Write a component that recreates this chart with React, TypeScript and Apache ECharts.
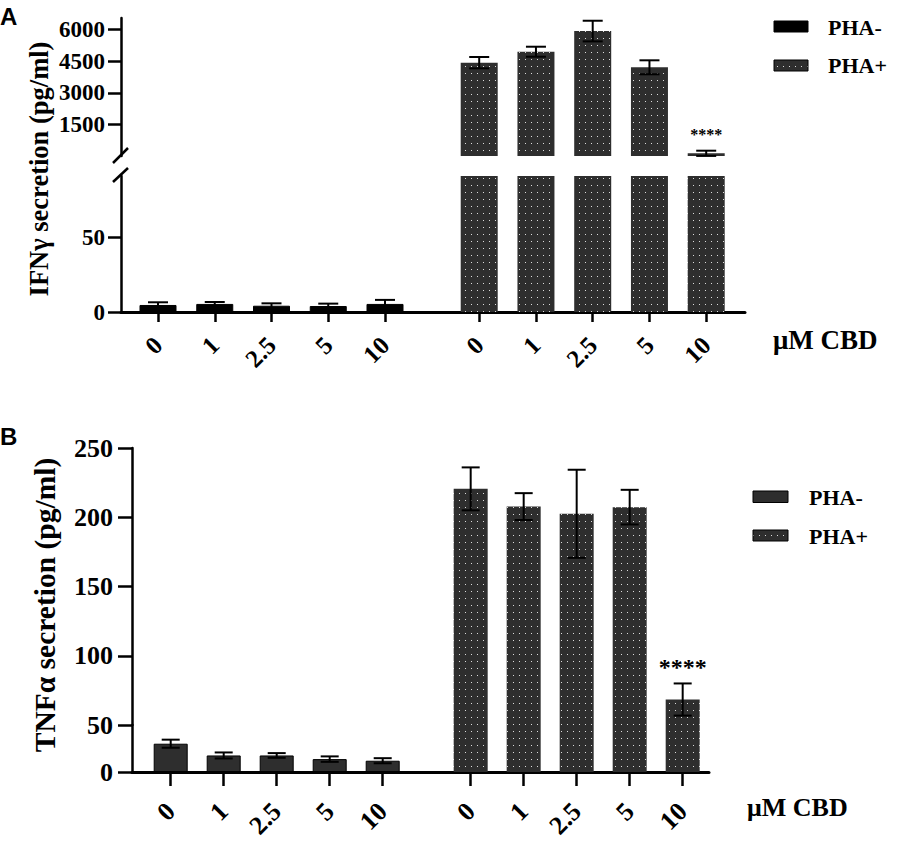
import React, { useEffect, useRef } from "react";
import * as echarts from "echarts";

// ---------- data ----------
const doses = ["0", "1", "2.5", "5", "10"];
const groupNames = ["PHA-", "PHA+"];

// Panel A: IFNγ secretion (pg/ml)
const ifnMinus = [4.7, 5.4, 4.2, 4.0, 5.4];
const ifnMinusErr = [1.8, 1.3, 1.6, 1.6, 2.7];
const ifnPlus = [4430, 4950, 5930, 4210, 128];
const ifnPlusErr = [270, 237, 490, 332, 124];
const ifnSig = ["", "", "", "", "****"];
const ifnUpperTicks = [1500, 3000, 4500, 6000];
const ifnLowerTicks = [0, 50];

// Panel B: TNFα secretion (pg/ml)
const tnfMinus = [30.1, 17.6, 17.6, 13.7, 12.0];
const tnfMinusErr = [4.3, 3.2, 2.5, 2.9, 2.7];
const tnfPlus = [220.5, 207.7, 202.5, 207.3, 68.4];
const tnfPlusErr = [15.5, 9.7, 31.8, 12.5, 11.6];
const tnfSig = ["", "", "", "", "****"];
const tnfUpperTicks = [100, 150, 200, 250];
const tnfLowerTicks = [0, 50];

// ---------- layout ----------
const SERIF = "'Liberation Serif', 'Times New Roman', serif";
const SANS = "'Liberation Sans', Arial, sans-serif";
const GROUP_OFFSET = 5.66; // slot distance between first PHA- and first PHA+ bar

const minusPos = doses.map((_, i) => i);
const plusPos = doses.map((_, i) => i + GROUP_OFFSET);
const allPos = [...minusPos, ...plusPos];
const allLabels = [...doses, ...doses];

function makeDots(bg: string) {
  const c = document.createElement("canvas");
  c.width = 6;
  c.height = 7;
  const g = c.getContext("2d")!;
  g.fillStyle = bg;
  g.fillRect(0, 0, 6, 7);
  g.fillStyle = "#dcdcdc";
  g.fillRect(3, 3, 1, 1);
  return { image: c, repeat: "repeat", imageWidth: 6, imageHeight: 7 } as any;
}

interface Seg {
  top: number;
  bottom: number;
  min: number;
  max: number;
  ticks: number[];
}
interface Panel {
  axisX: number;
  axisRight: number;
  firstTick: number;
  unit: number;
  upper: Seg;
  lower: Seg;
  barWidth: number;
  capHalf: number;
  yFont: number;
  yMargin: number;
  yTickLen: number;
  xFont: number;
  xMargin: number;
  xTickLen: number;
  sigFont: number;
  sigDist: number;
  minus: number[];
  minusErr: number[];
  plus: number[];
  plusErr: number[];
  sig: string[];
  minusColor: string;
}

const panels: Panel[] = [
  {
    axisX: 121,
    axisRight: 745,
    firstTick: 158,
    unit: 56.75,
    upper: { top: 18, bottom: 156, min: 0, max: 6550, ticks: ifnUpperTicks },
    lower: { top: 176, bottom: 312, min: 0, max: 91, ticks: ifnLowerTicks },
    barWidth: 37,
    capHalf: 10,
    yFont: 23,
    yMargin: 16,
    yTickLen: 13,
    xFont: 25,
    xMargin: 29,
    xTickLen: 10,
    sigFont: 16,
    sigDist: 8,
    minus: ifnMinus,
    minusErr: ifnMinusErr,
    plus: ifnPlus,
    plusErr: ifnPlusErr,
    sig: ifnSig,
    minusColor: "#000000",
  },
  {
    axisX: 132,
    axisRight: 709,
    firstTick: 170.7,
    unit: 53,
    upper: { top: 448, bottom: 725, min: 50, max: 250, ticks: tnfUpperTicks },
    lower: { top: 725, bottom: 772, min: 0, max: 50, ticks: tnfLowerTicks },
    barWidth: 34,
    capHalf: 9,
    yFont: 26,
    yMargin: 19,
    yTickLen: 14,
    xFont: 26,
    xMargin: 35,
    xTickLen: 14,
    sigFont: 24,
    sigDist: 4,
    minus: tnfMinus,
    minusErr: tnfMinusErr,
    plus: tnfPlus,
    plusErr: tnfPlusErr,
    sig: tnfSig,
    minusColor: "#2e2e2e",
  },
];

const errorRender = (capHalf: number) => (params: any, api: any) => {
  const x = api.value(0);
  const v = api.value(1);
  const e = api.value(2);
  const hi = api.coord([x, v + e]);
  const lo = api.coord([x, v - e]);
  const st = { stroke: "#000", lineWidth: 2 };
  return {
    type: "group",
    children: [
      { type: "line", shape: { x1: hi[0], y1: hi[1], x2: lo[0], y2: lo[1] }, style: st },
      { type: "line", shape: { x1: hi[0] - capHalf, y1: hi[1], x2: hi[0] + capHalf, y2: hi[1] }, style: st },
      { type: "line", shape: { x1: lo[0] - capHalf, y1: lo[1], x2: lo[0] + capHalf, y2: lo[1] }, style: st },
    ],
  };
};

function buildOption() {
  const dotsFill = makeDots("#2e2e2e");
  const grid: any[] = [];
  const xAxis: any[] = [];
  const yAxis: any[] = [];
  const series: any[] = [];

  panels.forEach((p, pi) => {
    const xMin = (p.axisX - p.firstTick) / p.unit;
    const xMax = (p.axisRight - p.firstTick) / p.unit;
    const segs = [p.upper, p.lower];
    segs.forEach((s, si) => {
      const gi = pi * 2 + si;
      const isLower = si === 1;
      grid.push({
        left: p.axisX,
        top: s.top,
        width: p.axisRight - p.axisX,
        height: s.bottom - s.top,
      });
      xAxis.push({
        type: "value",
        gridIndex: gi,
        min: xMin,
        max: xMax,
        show: isLower,
        axisLine: { show: true, onZero: false, lineStyle: { color: "#000", width: 3 } },
        axisTick: {
          show: true,
          customValues: allPos,
          length: p.xTickLen,
          lineStyle: { color: "#000", width: 2.5 },
        },
        axisLabel: {
          customValues: allPos,
          rotate: 45,
          margin: p.xMargin,
          fontFamily: SERIF,
          fontWeight: "bold",
          fontSize: p.xFont,
          color: "#000",
          formatter: (val: number) => {
            const i = allPos.findIndex((q) => Math.abs(q - val) < 1e-3);
            return i >= 0 ? allLabels[i] : "";
          },
        },
        splitLine: { show: false },
      });
      yAxis.push({
        type: "value",
        gridIndex: gi,
        min: s.min,
        max: s.max,
        axisLine: { show: true, onZero: false, lineStyle: { color: "#000", width: 2.5 } },
        axisTick: {
          show: true,
          customValues: s.ticks,
          length: p.yTickLen,
          lineStyle: { color: "#000", width: 2.5 },
        },
        axisLabel: {
          customValues: s.ticks,
          margin: p.yMargin,
          fontFamily: SERIF,
          fontWeight: "bold",
          fontSize: p.yFont,
          color: "#000",
          formatter: (v: number) => String(v),
        },
        splitLine: { show: false },
      });

      // bars
      if (isLower) {
        series.push({
          type: "bar",
          name: groupNames[0],
          xAxisIndex: gi,
          yAxisIndex: gi,
          barWidth: p.barWidth,
          barGap: "-100%",
          data: p.minus.map((v, i) => [minusPos[i], v]),
          itemStyle: { color: p.minusColor, borderColor: "#000", borderWidth: 1 },
        });
      }
      series.push({
        type: "bar",
        name: groupNames[1],
        xAxisIndex: gi,
        yAxisIndex: gi,
        barWidth: p.barWidth,
        barGap: "-100%",
        data: p.plus.map((v, i) => [plusPos[i], v]),
        itemStyle: { color: dotsFill, borderWidth: 0 },
      });

      // error bars
      const errVals = isLower ? p.minus : p.plus;
      const errs = isLower ? p.minusErr : p.plusErr;
      const errPos = isLower ? minusPos : plusPos;
      series.push({
        type: "custom",
        name: groupNames[isLower ? 0 : 1] + " SD",
        xAxisIndex: gi,
        yAxisIndex: gi,
        encode: { x: 0, y: 1 },
        data: errVals.map((v, i) => [errPos[i], v, errs[i]]),
        renderItem: errorRender(p.capHalf),
        z: 5,
      });

      // significance marks
      if (!isLower) {
        series.push({
          type: "scatter",
          name: "significance",
          xAxisIndex: gi,
          yAxisIndex: gi,
          symbolSize: 0.01,
          itemStyle: { color: "#000", opacity: 1 },
          z: 6,
          data: p.sig
            .map((s, i) => ({ s, i }))
            .filter((d) => d.s !== "")
            .map((d) => ({
              value: [plusPos[d.i], p.plus[d.i] + p.plusErr[d.i]],
              label: {
                show: true,
                formatter: d.s,
                position: "top",
                distance: p.sigDist,
                fontFamily: SERIF,
                fontWeight: "bold",
                fontSize: p.sigFont,
                color: "#000",
                opacity: 1,
              },
            })),
        });
      }
    });
  });

  const serifBold = (size: number) => `bold ${size}px ${SERIF}`;
  const graphic: any[] = [
    // panel letters
    { type: "text", left: 0, top: 4, style: { text: "A", font: `bold 24px ${SANS}`, fill: "#000" } },
    { type: "text", left: 0, top: 424, style: { text: "B", font: `bold 24px ${SANS}`, fill: "#000" } },
    // y axis titles
    {
      type: "text",
      x: 39,
      y: 169,
      rotation: Math.PI / 2,
      style: { text: "IFNγ secretion (pg/ml)", font: serifBold(26.5), fill: "#000", align: "center", verticalAlign: "middle" },
    },
    {
      type: "text",
      x: 45,
      y: 605,
      rotation: Math.PI / 2,
      style: { text: "TNFα secretion (pg/ml)", font: serifBold(29.5), fill: "#000", align: "center", verticalAlign: "middle" },
    },
    // x axis titles
    { type: "text", x: 773, y: 340, style: { text: "μM CBD", font: serifBold(27), fill: "#000", verticalAlign: "middle" } },
    { type: "text", x: 747, y: 807, style: { text: "μM CBD", font: serifBold(26), fill: "#000", verticalAlign: "middle" } },
    // axis break marks (panel A)
    { type: "line", shape: { x1: 113, y1: 163, x2: 128, y2: 148 }, style: { stroke: "#000", lineWidth: 2.5 } },
    { type: "line", shape: { x1: 113, y1: 182, x2: 128, y2: 168 }, style: { stroke: "#000", lineWidth: 2.5 } },
    // legend A
    { type: "rect", shape: { x: 774, y: 21, width: 34, height: 11 }, style: { fill: panels[0].minusColor, stroke: "#000", lineWidth: 1 } },
    { type: "text", x: 828, y: 27, style: { text: groupNames[0], font: serifBold(22), fill: "#000", verticalAlign: "middle" } },
    { type: "rect", shape: { x: 774, y: 60, width: 34, height: 11 }, style: { fill: dotsFill, stroke: "#000", lineWidth: 1 } },
    { type: "text", x: 828, y: 65.5, style: { text: groupNames[1], font: serifBold(22), fill: "#000", verticalAlign: "middle" } },
    // legend B
    { type: "rect", shape: { x: 753, y: 491, width: 35, height: 11.5 }, style: { fill: panels[1].minusColor, stroke: "#000", lineWidth: 1 } },
    { type: "text", x: 809, y: 497, style: { text: groupNames[0], font: serifBold(22), fill: "#000", verticalAlign: "middle" } },
    { type: "rect", shape: { x: 753, y: 530, width: 35, height: 11 }, style: { fill: dotsFill, stroke: "#000", lineWidth: 1 } },
    { type: "text", x: 809, y: 536, style: { text: groupNames[1], font: serifBold(22), fill: "#000", verticalAlign: "middle" } },
  ];

  return {
    animation: false,
    backgroundColor: "#ffffff",
    grid,
    xAxis,
    yAxis,
    series,
    graphic,
  };
}

export default function App() {
  const ref = useRef<HTMLDivElement>(null);
  useEffect(() => {
    if (!ref.current) return;
    const chart = echarts.init(ref.current, undefined, { renderer: "svg" });
    chart.setOption(buildOption() as any);
    return () => chart.dispose();
  }, []);
  return (
    <div
      ref={ref}
      style={{ position: "absolute", left: 0, top: 0, width: 898, height: 850, background: "#fff" }}
    />
  );
}
